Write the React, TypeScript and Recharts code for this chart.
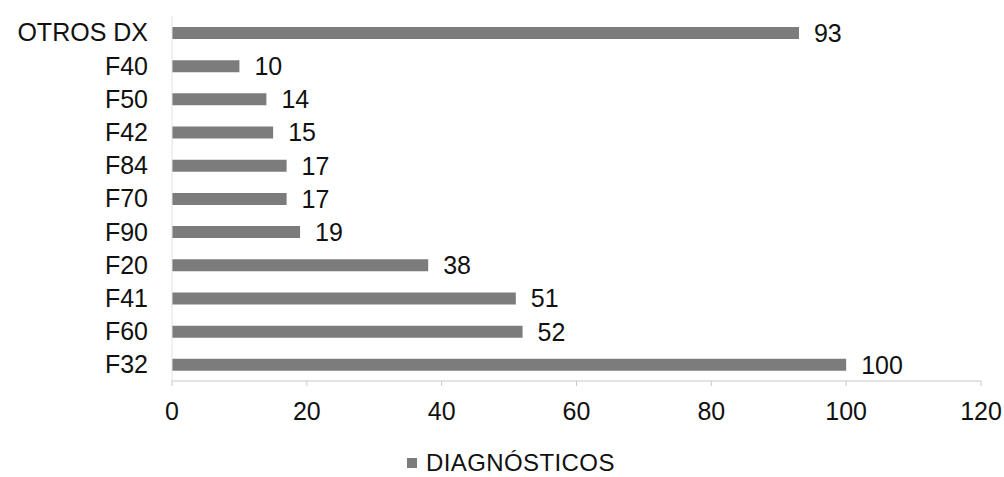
import { BarChart, Bar, XAxis, YAxis, CartesianGrid, Legend, LabelList } from "recharts";

// Diagnósticos por código, de arriba abajo como en la figura
const categories = ["OTROS DX", "F40", "F50", "F42", "F84", "F70", "F90", "F20", "F41", "F60", "F32"];
const counts = [93, 10, 14, 15, 17, 17, 19, 38, 51, 52, 100];
const xTicks = [0, 20, 40, 60, 80, 100, 120];

const data = categories.map((name, i) => ({ name, value: counts[i] }));

const font = "'Liberation Sans', Arial, sans-serif";
const fs = 25;

function LegendContent() {
  return (
    <div style={{ display: "flex", alignItems: "center", fontFamily: font, fontSize: 24, color: "#111", height: 26, lineHeight: "26px", whiteSpace: "nowrap", letterSpacing: 0.4 }}>
      <span style={{ width: 10, height: 10, background: "#7c7c7c", marginRight: 9, display: "inline-block" }} />
      <span>DIAGNÓSTICOS</span>
    </div>
  );
}

export default function App() {
  return (
    <div style={{ position: "absolute", left: 0, top: 0, width: 1004, height: 477, background: "#fff" }}>
      <BarChart
        width={1004}
        height={477}
        data={data}
        layout="vertical"
        margin={{ top: 16, right: 23, bottom: 30, left: 0 }}
        barCategoryGap={0}
      >
        <CartesianGrid horizontal={false} vertical={false} />
        <XAxis
          type="number"
          domain={[0, 120]}
          ticks={xTicks}
          height={40}
          axisLine={{ stroke: "#c8c8c8" }}
          tickLine={{ stroke: "#c8c8c8" }}
          tickSize={5}
          tickMargin={16}
          tick={{ fill: "#111", fontSize: fs, fontFamily: font }}
        />
        <YAxis
          type="category"
          dataKey="name"
          width={172}
          axisLine={{ stroke: "#e2e2e2" }}
          tickLine={false}
          tickSize={0}
          tickMargin={24}
          tick={{ fill: "#111", fontSize: fs, fontFamily: font }}
        />
        <Legend
          verticalAlign="bottom"
          content={<LegendContent />}
          wrapperStyle={{ position: "absolute", left: 407, top: 450, width: 280, height: 26 }}
        />
        <Bar dataKey="value" name="DIAGNÓSTICOS" fill="#7c7c7c" barSize={12} isAnimationActive={false}>
          <LabelList dataKey="value" position="right" offset={15} fill="#111" fontSize={fs} fontFamily={font} />
        </Bar>
      </BarChart>
    </div>
  );
}
